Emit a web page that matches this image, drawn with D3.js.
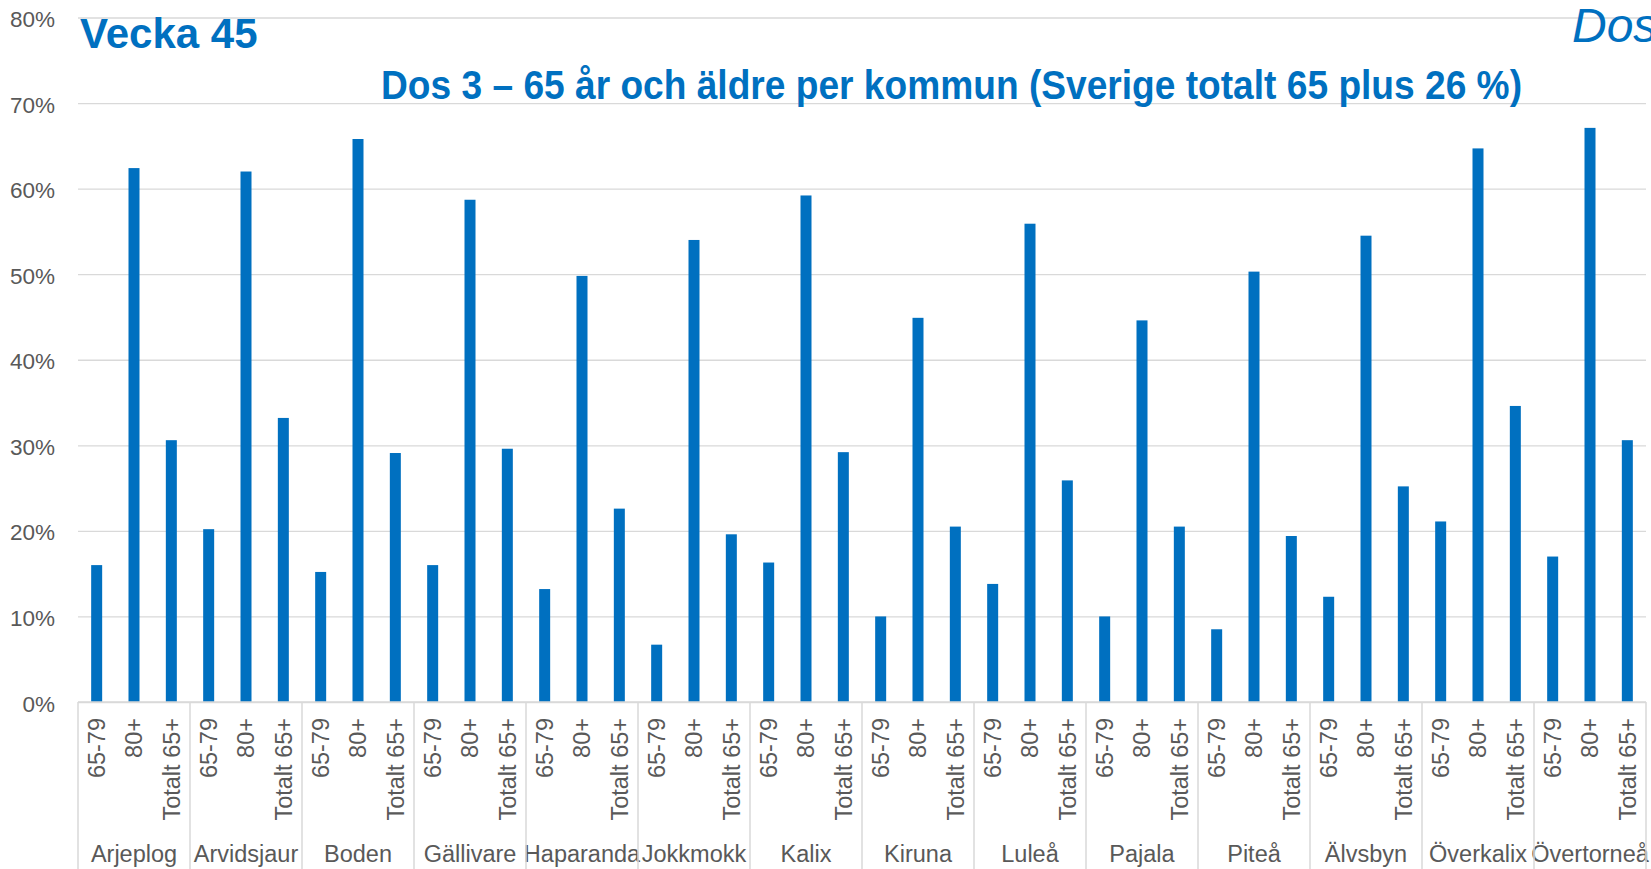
<!DOCTYPE html>
<html>
<head>
<meta charset="utf-8">
<script src="https://cdn.jsdelivr.net/npm/d3@7/dist/d3.min.js"></script>
<style>
  html, body { margin: 0; padding: 0; background: #fff; overflow: hidden; }
  text { font-family: "Liberation Sans", Arial, sans-serif; }
</style>
</head>
<body>
<div id="chart"></div>
<script>
var WIDTH = 1651
var HEIGHT = 869

// data
var kommuner = ['Arjeplog', 'Arvidsjaur', 'Boden', 'Gällivare', 'Haparanda', 'Jokkmokk', 'Kalix',
  'Kiruna', 'Luleå', 'Pajala', 'Piteå', 'Älvsbyn', 'Överkalix', 'Övertorneå']
var grupper = ['65-79', '80+', 'Totalt 65+']
var dos65_79 = [0.160, 0.202, 0.152, 0.160, 0.132, 0.067, 0.163, 0.100, 0.138, 0.100, 0.085, 0.123, 0.211, 0.170]
var dos80 = [0.624, 0.620, 0.658, 0.587, 0.498, 0.540, 0.592, 0.449, 0.559, 0.446, 0.503, 0.545, 0.647, 0.671]
var dosTotalt = [0.306, 0.332, 0.291, 0.296, 0.226, 0.196, 0.292, 0.205, 0.259, 0.205, 0.194, 0.252, 0.346, 0.306]
var yTicks = [0, 0.1, 0.2, 0.3, 0.4, 0.5, 0.6, 0.7, 0.8]

var BLUE = '#0070C0'
var GRID = '#D9D9D9'
var LABEL = '#595959'

var PLOT_LEFT = 78
var PLOT_RIGHT = 1646
var PLOT_TOP = 17.5
var PLOT_BOTTOM = 702

var svg = d3.select('#chart').append('svg')
  .attr('width', WIDTH)
  .attr('height', HEIGHT)

var x0 = d3.scaleBand().domain(kommuner).range([PLOT_LEFT, PLOT_RIGHT])
var x1 = d3.scaleBand().domain(grupper).range([0, x0.bandwidth()])
var y = d3.scaleLinear().domain([0, 0.8]).range([PLOT_BOTTOM, PLOT_TOP])

var BAR_W = 11

// y axis with gridlines
var yAxis = svg.append('g')
  .attr('transform', 'translate(' + PLOT_LEFT + ',0)')
  .call(d3.axisLeft(y).tickValues(yTicks).tickFormat(d3.format('.0%'))
    .tickSize(-(PLOT_RIGHT - PLOT_LEFT)).tickPadding(23))
yAxis.select('.domain').remove()
yAxis.selectAll('line').attr('stroke', GRID).attr('stroke-width', 1.3)
yAxis.selectAll('text')
  .attr('fill', LABEL)
  .attr('dy', '0.4em')
  .style('font-size', '22.5px')

// titles
svg.append('text')
  .attr('x', 80).attr('y', 47.5)
  .attr('fill', BLUE)
  .style('font-size', '42px').style('font-weight', 'bold')
  .text('Vecka 45')

svg.append('text')
  .attr('x', 381).attr('y', 98.5)
  .attr('fill', BLUE)
  .attr('textLength', 1141).attr('lengthAdjust', 'spacingAndGlyphs')
  .style('font-size', '40px').style('font-weight', 'bold')
  .text('Dos 3 – 65 år och äldre per kommun (Sverige totalt 65 plus 26 %)')

svg.append('text')
  .attr('x', 1572).attr('y', 41.5)
  .attr('fill', BLUE)
  .style('font-size', '48px').style('font-style', 'italic')
  .text('Dos')

// bars
var rows = kommuner.map(function (k, i) {
  return {kommun: k, values: [dos65_79[i], dos80[i], dosTotalt[i]]}
})

var groups = svg.append('g').selectAll('g')
  .data(rows)
  .enter().append('g')
  .attr('transform', function (d) { return 'translate(' + x0(d.kommun) + ',0)' })

groups.selectAll('rect')
  .data(function (d) { return d.values.map(function (v, j) { return {grupp: grupper[j], v: v} }) })
  .enter().append('rect')
  .attr('x', function (d) { return x1(d.grupp) + x1.bandwidth() / 2 - BAR_W / 2 })
  .attr('y', function (d) { return y(d.v) })
  .attr('width', BAR_W)
  .attr('height', function (d) { return PLOT_BOTTOM - y(d.v) })
  .attr('fill', BLUE)

// x axis: baseline + category separators
svg.append('line')
  .attr('x1', PLOT_LEFT).attr('x2', PLOT_RIGHT)
  .attr('y1', PLOT_BOTTOM).attr('y2', PLOT_BOTTOM)
  .attr('stroke', GRID).attr('stroke-width', 1.5)

var seps = kommuner.map(function (k) { return x0(k) }).concat([PLOT_RIGHT])
svg.append('g').selectAll('line')
  .data(seps)
  .enter().append('line')
  .attr('x1', function (d) { return d }).attr('x2', function (d) { return d })
  .attr('y1', PLOT_BOTTOM).attr('y2', HEIGHT + 5)
  .attr('stroke', GRID).attr('stroke-width', 1.5)

// inner tick labels (rotated)
groups.each(function () {
  var g = d3.select(this).append('g').attr('transform', 'translate(0,' + PLOT_BOTTOM + ')')
  g.call(d3.axisBottom(x1).tickSize(0).tickPadding(0))
  g.select('.domain').remove()
  g.selectAll('text')
    .attr('fill', LABEL)
    .attr('transform', 'translate(0,16) rotate(-90)')
    .attr('x', 0).attr('y', 0).attr('dy', '0.35em')
    .attr('text-anchor', 'end')
    .style('font-size', '23.5px')
})

// kommun labels
groups.append('text')
  .attr('x', x0.bandwidth() / 2)
  .attr('y', 862)
  .attr('text-anchor', 'middle')
  .attr('fill', LABEL)
  .style('font-size', '23.5px')
  .text(function (d) { return d.kommun })
</script>
</body>
</html>
